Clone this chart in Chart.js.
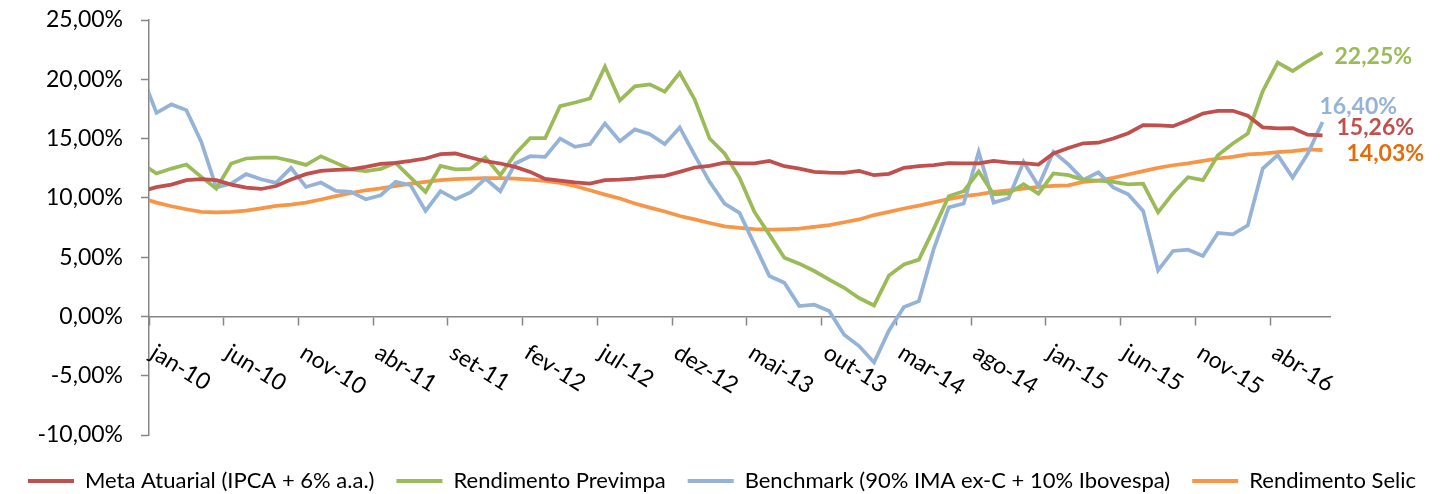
<!DOCTYPE html>
<html>
<head>
<meta charset="utf-8">
<script src="https://cdn.jsdelivr.net/npm/chart.js@4.4.1/dist/chart.umd.min.js"></script>
<style>
  html, body { margin: 0; padding: 0; background: #fff; }
  #wrap { width: 1444px; height: 494px; }
</style>
</head>
<body>
<div id="wrap"><canvas id="chart" width="1444" height="494"></canvas></div>
<script>
// months, dez-09 only feeds the short stub cut off by the y axis
const months = ['dez-09',
  'jan-10','fev-10','mar-10','abr-10','mai-10','jun-10','jul-10','ago-10','set-10','out-10','nov-10','dez-10',
  'jan-11','fev-11','mar-11','abr-11','mai-11','jun-11','jul-11','ago-11','set-11','out-11','nov-11','dez-11',
  'jan-12','fev-12','mar-12','abr-12','mai-12','jun-12','jul-12','ago-12','set-12','out-12','nov-12','dez-12',
  'jan-13','fev-13','mar-13','abr-13','mai-13','jun-13','jul-13','ago-13','set-13','out-13','nov-13','dez-13',
  'jan-14','fev-14','mar-14','abr-14','mai-14','jun-14','jul-14','ago-14','set-14','out-14','nov-14','dez-14',
  'jan-15','fev-15','mar-15','abr-15','mai-15','jun-15','jul-15','ago-15','set-15','out-15','nov-15','dez-15',
  'jan-16','fev-16','mar-16','abr-16','mai-16','jun-16','jul-16'];

const seriesNames = ['Meta Atuarial (IPCA + 6% a.a.)', 'Rendimento Previmpa',
  'Benchmark (90% IMA ex-C + 10% Ibovespa)', 'Rendimento Selic'];

const metaAtuarial = [10.55,
  10.9, 11.12, 11.49, 11.57, 11.49, 11.12, 10.87, 10.75, 11.0, 11.54, 12.0, 12.27,
  12.36, 12.41, 12.61, 12.87, 12.95, 13.12, 13.32, 13.68, 13.74, 13.4, 13.09, 12.9,
  12.61, 12.19, 11.6, 11.45, 11.3, 11.2, 11.49, 11.54, 11.63, 11.77, 11.85, 12.19,
  12.56, 12.7, 12.97, 12.9, 12.9, 13.12, 12.67, 12.47, 12.19, 12.13, 12.1, 12.27,
  11.91, 12.03, 12.53, 12.68, 12.77, 12.93, 12.9, 12.9, 13.12, 12.97, 12.93, 12.81,
  13.74, 14.2, 14.6, 14.65, 15.0, 15.45, 16.13, 16.12, 16.05, 16.55, 17.12, 17.34,
  17.34, 16.93, 15.95, 15.85, 15.89, 15.33, 15.26];

const rendPrevimpa = [12.9,
  12.05, 12.47, 12.81, 11.77, 10.78, 12.9, 13.32, 13.4, 13.4, 13.12, 12.78, 13.51,
  12.95, 12.39, 12.25, 12.45, 12.95, 11.71, 10.5, 12.7, 12.41, 12.44, 13.42, 11.91,
  13.7, 15.03, 15.03, 17.74, 18.04, 18.38, 21.06, 18.22, 19.4, 19.57, 18.95, 20.55,
  18.3, 15.0, 13.74, 11.7, 8.81, 6.9, 4.95, 4.45, 3.83, 3.1, 2.42, 1.55,
  0.93, 3.46, 4.39, 4.79, 7.4, 10.14, 10.56, 12.22, 10.3, 10.38, 11.15, 10.35,
  12.06, 11.91, 11.52, 11.45, 11.35, 11.13, 11.2, 8.78, 10.4, 11.74, 11.49, 13.6,
  14.58, 15.43, 19.0, 21.41, 20.7, 21.52, 22.25];

const benchmark = [20.4,
  17.17, 17.88, 17.4, 14.72, 10.87, 11.2, 12.0, 11.57, 11.26, 12.53, 10.92, 11.29,
  10.58, 10.5, 9.88, 10.22, 11.35, 11.06, 8.9, 10.56, 9.88, 10.45, 11.63, 10.56,
  12.9, 13.51, 13.46, 15.0, 14.3, 14.53, 16.27, 14.78, 15.77, 15.37, 14.53, 15.94,
  13.6, 11.35, 9.52, 8.73, 6.08, 3.41, 2.84, 0.87, 0.99, 0.45, -1.55, -2.5,
  -3.88, -1.18, 0.79, 1.29, 5.72, 9.2, 9.52, 13.88, 9.6, 9.97, 13.03, 11.0,
  13.88, 12.82, 11.52, 12.15, 10.88, 10.3, 8.9, 3.89, 5.52, 5.63, 5.1, 7.04,
  6.93, 7.69, 12.47, 13.6, 11.71, 13.7, 16.4];

const rendSelic = [10.0,
  9.6, 9.29, 9.04, 8.81, 8.78, 8.81, 8.92, 9.12, 9.32, 9.43, 9.6, 9.86,
  10.14, 10.41, 10.64, 10.8, 11.0, 11.2, 11.35, 11.49, 11.57, 11.63, 11.66, 11.66,
  11.63, 11.54, 11.43, 11.27, 11.0, 10.64, 10.27, 9.95, 9.52, 9.18, 8.85, 8.47,
  8.18, 7.88, 7.6, 7.46, 7.36, 7.32, 7.35, 7.4, 7.55, 7.7, 7.94, 8.18,
  8.55, 8.82, 9.1, 9.35, 9.62, 9.9, 10.14, 10.3, 10.5, 10.64, 10.78, 10.92,
  11.02, 11.06, 11.35, 11.46, 11.68, 11.97, 12.25, 12.53, 12.75, 12.9, 13.12, 13.32,
  13.46, 13.66, 13.74, 13.85, 13.94, 14.08, 14.03];

const lineColors = ['#C0504D', '#9BBB59', '#95B3D7', '#F79646'];
const endLabelColors = ['#C0504D', '#9BBB59', '#95B3D7', '#E46C0A'];
const endLabelOffsets = [[14, -8], [12, 4], [-3, -15], [24, 4]];

const FONT = 'Lato, "Open Sans", sans-serif';
const axisGray = '#868686';
const pct = v => v.toFixed(2).replace('.', ',') + '%';

// month labels slanted downwards, every 5 months
const monthLabels = {
  id: 'monthLabels',
  afterDraw(chart) {
    const ctx = chart.ctx;
    const xs = chart.scales.x, ys = chart.scales.y;
    const half = (xs.getPixelForValue(2) - xs.getPixelForValue(1)) / 2;
    const y0 = ys.getPixelForValue(0);
    ctx.save();
    ctx.fillStyle = '#000';
    ctx.font = '23px ' + FONT;
    ctx.textAlign = 'left';
    ctx.textBaseline = 'middle';
    for (let i = 1; i < months.length; i += 5) {
      const bx = xs.getPixelForValue(i) - half;
      ctx.save();
      ctx.translate(bx + 4, y0 + 34);
      ctx.rotate(32 * Math.PI / 180);
      ctx.fillText(months[i], 0, 0);
      ctx.restore();
    }
    ctx.restore();
  }
};

// value of the last month next to each line
const endLabels = {
  id: 'endLabels',
  afterDatasetsDraw(chart) {
    const ctx = chart.ctx;
    ctx.save();
    ctx.font = 'bold 23px ' + FONT;
    ctx.textAlign = 'left';
    ctx.textBaseline = 'middle';
    chart.data.datasets.forEach((ds, d) => {
      const pts = chart.getDatasetMeta(d).data;
      const p = pts[pts.length - 1];
      ctx.fillStyle = endLabelColors[d];
      ctx.fillText(pct(ds.data[ds.data.length - 1]), p.x + endLabelOffsets[d][0], p.y + endLabelOffsets[d][1]);
    });
    ctx.restore();
  }
};

const legendNudge = {
  id: 'legendNudge',
  afterLayout(chart) {
    chart.legend.top += 13;
    chart.legend.bottom += 13;
  }
};

new Chart(document.getElementById('chart'), {
  type: 'line',
  data: {
    labels: months,
    datasets: [metaAtuarial, rendPrevimpa, benchmark, rendSelic].map((vals, i) => ({
      label: seriesNames[i],
      data: vals,
      borderColor: lineColors[i],
      backgroundColor: lineColors[i],
      borderWidth: 3.75,
      pointRadius: 0,
      tension: 0,
      fill: false
    }))
  },
  options: {
    responsive: false,
    animation: false,
    devicePixelRatio: 1,
    layout: { padding: { top: 20, right: 0, bottom: 5, left: 0 } },
    plugins: {
      tooltip: { enabled: false },
      legend: {
        position: 'bottom',
        labels: {
          color: '#000',
          font: { family: FONT, size: 22 },
          boxWidth: 46,
          boxHeight: 4,
          padding: 22,
          generateLabels(chart) {
            return Chart.defaults.plugins.legend.labels.generateLabels(chart)
              .map(l => Object.assign(l, { lineWidth: 0 }));
          }
        }
      }
    },
    scales: {
      x: {
        type: 'category',
        min: 'jan-10',
        offset: true,
        position: { y: 0 },
        grid: {
          offset: true,
          drawOnChartArea: false,
          drawTicks: true,
          tickLength: 8,
          tickWidth: 1.5,
          tickColor: c => (c.index % 5 === 0 ? axisGray : 'rgba(0,0,0,0)')
        },
        border: { color: axisGray, width: 1.5 },
        ticks: { display: false },
        afterFit: s => { s.height = 0; }
      },
      y: {
        min: -10,
        max: 25,
        ticks: {
          stepSize: 5,
          padding: 18,
          color: '#000',
          font: { family: FONT, size: 23 },
          callback: v => pct(v)
        },
        grid: { drawOnChartArea: false, tickLength: 8, tickWidth: 1.5, tickColor: axisGray },
        border: { color: axisGray, width: 1.5 },
        afterFit: s => {
          s.width = 149;
          s.paddingTop = 0;
          s.paddingBottom = 0;
        }
      },
      // empty room on the right for the end labels
      spare: {
        type: 'linear',
        position: 'right',
        grid: { display: false },
        border: { display: false },
        ticks: { display: false },
        afterFit: s => { s.width = 114; }
      }
    }
  },
  plugins: [monthLabels, endLabels, legendNudge]
});
</script>
</body>
</html>
